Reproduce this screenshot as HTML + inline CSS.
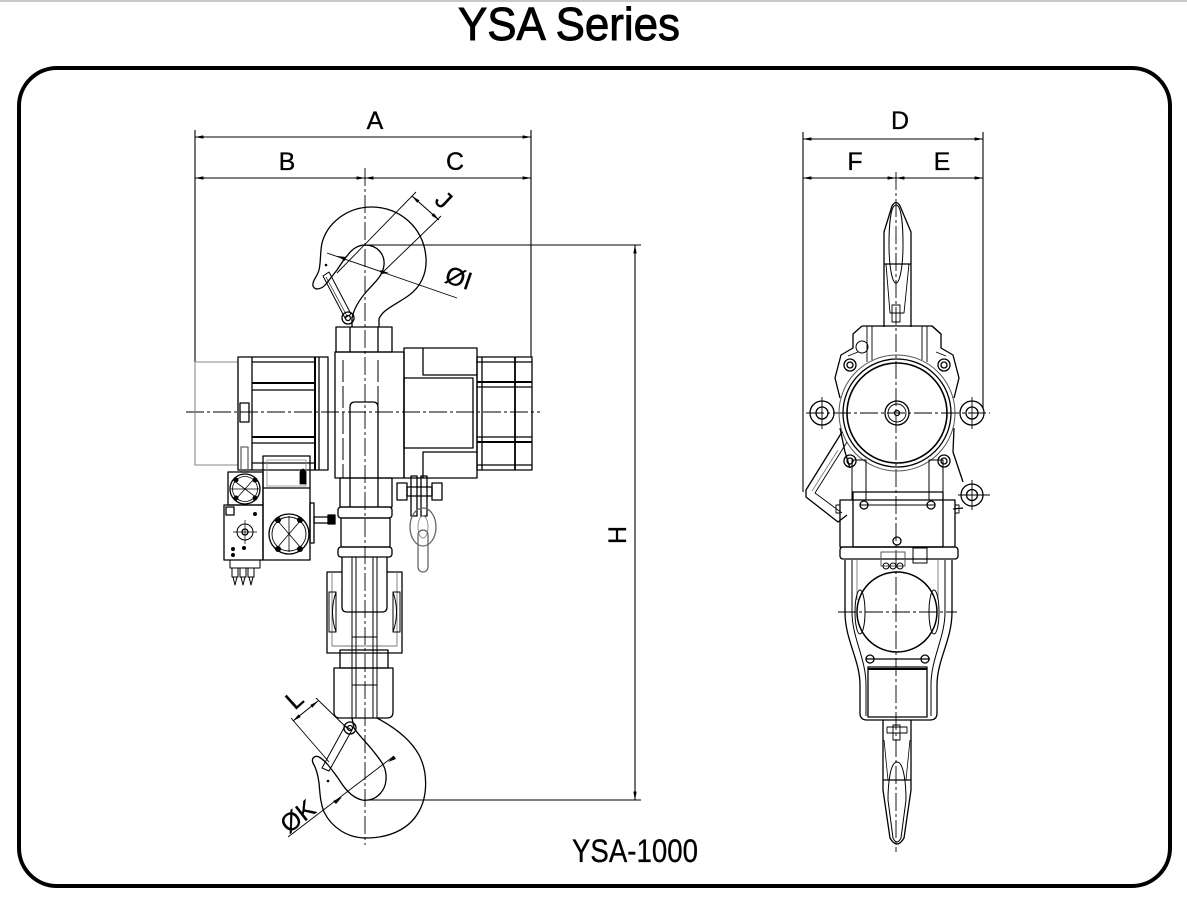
<!DOCTYPE html>
<html><head><meta charset="utf-8"><style>
html,body{margin:0;padding:0;background:#fff;}
svg{display:block}
text{font-family:"Liberation Sans",sans-serif;fill:#000}
</style></head><body>
<svg width="1187" height="898" viewBox="0 0 1187 898" xmlns="http://www.w3.org/2000/svg">
<defs>
<marker id="a" viewBox="0 0 10 4" refX="10" refY="2" markerWidth="9" markerHeight="3.4" markerUnits="userSpaceOnUse" orient="auto-start-reverse"><path d="M0,0L10,2L0,4z" fill="#000"/></marker>
</defs>
<rect x="0" y="0" width="1187" height="2" fill="#c8c8c8"/>
<text x="569" y="40" font-size="46" text-anchor="middle" textLength="222" lengthAdjust="spacingAndGlyphs" stroke="#000" stroke-width="0.9">YSA Series</text>
<rect x="19" y="68" width="1151" height="818" rx="38" fill="none" stroke="#000" stroke-width="4"/>
<text x="635" y="862" font-size="32" text-anchor="middle" textLength="126" lengthAdjust="spacingAndGlyphs" stroke="#000" stroke-width="0.3">YSA-1000</text>

<!-- dimension labels -->
<g font-size="25" text-anchor="middle" stroke="#000" stroke-width="0.3">
<text x="375" y="129">A</text>
<text x="287" y="170">B</text>
<text x="455" y="170">C</text>
<text x="900" y="129">D</text>
<text x="855" y="170">F</text>
<text x="942" y="170">E</text>
<text transform="translate(626,535) rotate(-90)">H</text>
<text transform="translate(438,206) rotate(43)">J</text>
<text transform="translate(456,286) rotate(19)">ØI</text>
<text transform="translate(300,706) rotate(-42)">L</text>
<text transform="translate(303,823) rotate(-38)">ØK</text>
</g>

<!-- dimension lines -->
<g stroke="#000" stroke-width="1.1" fill="none">
<line x1="195" y1="130" x2="195" y2="362"/>
<line x1="531" y1="130" x2="531" y2="357"/>
<line x1="195" y1="137" x2="531" y2="137" marker-start="url(#a)" marker-end="url(#a)"/>
<line x1="195" y1="178" x2="365" y2="178" marker-start="url(#a)" marker-end="url(#a)"/>
<line x1="365" y1="178" x2="531" y2="178" marker-start="url(#a)" marker-end="url(#a)"/>
<line x1="365" y1="245" x2="641" y2="245"/>
<line x1="365" y1="800" x2="641" y2="800"/>
<line x1="635" y1="245" x2="635" y2="800" marker-start="url(#a)" marker-end="url(#a)"/>
<line x1="803" y1="132" x2="803" y2="492"/>
<line x1="983" y1="132" x2="983" y2="408"/>
<line x1="803" y1="139" x2="983" y2="139" marker-start="url(#a)" marker-end="url(#a)"/>
<line x1="803" y1="178" x2="896" y2="178" marker-start="url(#a)" marker-end="url(#a)"/>
<line x1="896" y1="178" x2="983" y2="178" marker-start="url(#a)" marker-end="url(#a)"/>
<!-- J -->
<line x1="337" y1="273" x2="416" y2="192" stroke-width="0.9"/>
<line x1="382" y1="273" x2="441" y2="216" stroke-width="0.9"/>
<line x1="412" y1="196" x2="439" y2="220" marker-start="url(#a)" marker-end="url(#a)"/>
<!-- ØI -->
<line x1="327" y1="253" x2="457" y2="298" stroke-width="0.9"/>
<!-- L -->
<line x1="291" y1="718" x2="329" y2="762" stroke-width="0.9"/>
<line x1="316" y1="698" x2="350" y2="731" stroke-width="0.9"/>
<line x1="293" y1="721" x2="318" y2="701" marker-start="url(#a)" marker-end="url(#a)"/>
<!-- ØK -->
<line x1="288" y1="837" x2="394" y2="756" stroke-width="0.9"/>
</g>
<g fill="#000">
<polygon points="337,256 346,257 345,261"/>
<polygon points="389,273 380,270 381,274"/>
<polygon points="342,797 336,804 333,801"/>
<polygon points="388,762 394,756 396,759"/>
</g>

<!-- center lines -->
<g stroke="#000" stroke-width="0.9" stroke-dasharray="18 3 3 3" fill="none">
<line x1="365" y1="168" x2="365" y2="845"/>
<line x1="186" y1="412" x2="540" y2="412"/>
<line x1="896" y1="172" x2="896" y2="852"/>
<line x1="806" y1="413" x2="990" y2="413"/>
<line x1="838" y1="612" x2="957" y2="612"/>
</g>

<!-- ===== LEFT VIEW ===== -->
<g stroke="#000" stroke-width="1.3" fill="none" stroke-linejoin="round">
<!-- upper hook -->
<path d="M379,327 L379,319 C382,310 395,305 408,296 C421,287 427,273 426,258 C424,228 400,207 372,207 C346,207 327,224 322,243 C320,252 321,262 319,270 C317,277 312,281 313,286 C315,291 322,289 326,284 L337,270 C341,264 344,259 347,256 C352,249 358,245 365,245 C377,245 385,254 384,265 C383,276 374,283 367,291 C360,299 354,308 352,318 L352,327"/>
<polygon points="323,276 329,272 351,314 345,318" stroke-width="1"/>
<line x1="326" y1="277" x2="347" y2="316" stroke-width="0.6"/>
<circle cx="348" cy="318" r="6"/>
<circle cx="348" cy="318" r="2.5"/>
<line x1="350" y1="327" x2="350" y2="352"/>
<line x1="378" y1="327" x2="378" y2="352"/>
<rect x="336" y="327" width="56" height="25"/>
<!-- column -->
<rect x="335" y="352" width="69" height="126"/>
<path d="M343,360 V478 M378,360 V478" stroke-dasharray="22 4" stroke-width="1"/>
<path d="M350,507 V407 Q350,402 355,402 H373 Q378,402 378,407 V507"/>
<rect x="340" y="478" width="52" height="29"/>
<!-- left cover -->
<rect x="195" y="362" width="43" height="103" stroke="#888" stroke-width="1.1"/>
<!-- bracket + motor -->
<rect x="238" y="357" width="90" height="113"/>
<line x1="252" y1="357" x2="252" y2="470"/>
<line x1="315" y1="357" x2="315" y2="470" stroke-width="2"/>
<line x1="319" y1="357" x2="319" y2="470"/>
<rect x="240" y="403" width="9" height="19"/>
<line x1="252" y1="362" x2="315" y2="362"/>
<line x1="252" y1="383" x2="315" y2="383" stroke-width="2"/>
<line x1="252" y1="390" x2="315" y2="390"/>
<line x1="252" y1="437" x2="315" y2="437" stroke-width="2"/>
<line x1="252" y1="443" x2="315" y2="443"/>
<line x1="252" y1="463" x2="315" y2="463"/>
<!-- gearbox -->
<rect x="404" y="348" width="73" height="130"/>
<rect x="404" y="378" width="69" height="70"/>
<path d="M423,348 V375 H477 M423,478 V452 H477"/>
<!-- right motor -->
<rect x="477" y="357" width="55" height="113"/>
<line x1="482" y1="357" x2="482" y2="470"/>
<line x1="515" y1="357" x2="515" y2="470" stroke-width="1.8"/>
<line x1="477" y1="362" x2="532" y2="362"/>
<line x1="477" y1="382" x2="532" y2="382" stroke-width="2"/>
<line x1="477" y1="387" x2="532" y2="387"/>
<line x1="477" y1="437" x2="532" y2="437"/>
<line x1="477" y1="442" x2="532" y2="442" stroke-width="2"/>
<line x1="477" y1="465" x2="532" y2="465"/>
<!-- bolt + chain -->
<rect x="397" y="483" width="10" height="17"/>
<rect x="432" y="483" width="10" height="17"/>
<rect x="407" y="487" width="25" height="9"/>
<rect x="411" y="476" width="6" height="40"/>
<rect x="421" y="476" width="6" height="40"/>
<ellipse cx="423" cy="527" rx="13" ry="19" stroke="#666"/>
<ellipse cx="423" cy="527" rx="5" ry="11" stroke="#888" stroke-width="0.9"/>
<rect x="418" y="530" width="10" height="42" rx="5" stroke="#666"/>
<!-- left boxes -->
<rect x="241" y="447" width="7" height="25" stroke="#666"/>
<rect x="228" y="472" width="35" height="33"/>
<circle cx="245" cy="489" r="15"/>
<circle cx="245" cy="489" r="12.5" stroke-width="0.8"/>
<path d="M233,480 L257,498 M236,499 L254,479 M231,489 H259" stroke-width="0.8"/>
<g fill="#000" stroke="none">
<circle cx="236" cy="480" r="2.5"/><circle cx="255" cy="480" r="2.5"/><circle cx="236" cy="498" r="2.5"/><circle cx="255" cy="498" r="2.5"/>
</g>
<rect x="224" y="505" width="39" height="55"/>
<rect x="226" y="507" width="8" height="8"/>
<circle cx="245" cy="532" r="8" stroke-width="1"/>
<circle cx="245" cy="532" r="3"/>
<path d="M233,532 H257 M245,520 V544" stroke-width="0.7"/>
<g fill="#000" stroke="none">
<circle cx="233" cy="549" r="2"/><circle cx="233" cy="555" r="2"/><circle cx="244" cy="548" r="2"/><circle cx="255" cy="514" r="2"/>
</g>
<rect x="263" y="456" width="47" height="104"/>
<line x1="263" y1="488" x2="310" y2="488"/>
<rect x="267" y="460" width="39" height="26" stroke="#888" stroke-width="0.8"/>
<path d="M300,484 V472 Q303,466 306,472 V484 Z" fill="#000" stroke-width="0.8"/>
<circle cx="289" cy="534" r="20"/>
<circle cx="289" cy="534" r="17" stroke-width="0.9"/>
<path d="M277,520 L301,548 M277,548 L301,520 M289,516 V552" stroke-width="0.8"/>
<g fill="#000" stroke="none">
<circle cx="278" cy="520" r="3"/><circle cx="300" cy="520" r="3"/><circle cx="278" cy="549" r="3"/><circle cx="300" cy="549" r="3"/>
</g>
<rect x="310" y="503" width="4" height="40"/>
<rect x="314" y="517" width="15" height="6"/>
<rect x="328" y="515" width="7" height="9" fill="#000"/>
<path d="M230,560 V568 H260 V560 M232,568 V577 H238 V568 M240,568 V577 H246 V568 M248,568 V577 H254 V568" stroke-width="1"/>
<path d="M233,577 L235,585 L237,577 M241,577 L243,585 L245,577 M249,577 L251,585 L253,577" stroke-width="1"/>
<!-- collar -->
<rect x="338" y="507" width="54" height="11" rx="3"/>
<rect x="341" y="518" width="49" height="29"/>
<rect x="338" y="547" width="54" height="10" rx="3"/>
<!-- lower section -->
<path d="M342,557 V607 Q342,612 347,612 H382 Q387,612 387,607 V557"/>
<path d="M342,572 H327 V653 H402 V572 H387"/>
<path d="M332,572 V646 H397 V572" stroke="#777" stroke-width="0.9"/>
<path d="M336,592 Q329,612 336,632 M329,592 H336 V632 H329 Z" stroke-width="1"/>
<path d="M393,592 Q400,612 393,632 M400,592 H393 V632 H400 Z" stroke-width="1"/>
<path d="M352,557 V718 M356,557 V718 M373,557 V718 M377,557 V718" stroke-width="1"/>
<path d="M352,612 H377 M352,637 H377 M352,685 H377" stroke-width="0.9"/>
<rect x="340" y="650" width="48" height="18"/>
<path d="M334,668 H393 V712 Q393,718 387,718 H340 Q334,718 334,712 Z"/>
<!-- lower hook -->
<path d="M377,718 C392,726 410,738 419,755 C428,772 428,797 418,813 C408,830 388,838 366,838 C348,838 332,828 324,812 C320,802 320,792 319,783 C318,775 316,768 313,763 C311,758 315,755 319,757 C326,761 332,770 338,778 C343,786 350,797 362,800 C375,802 385,792 386,780 C387,768 382,762 374,752 C368,744 360,737 354,728 L352,718"/>
<polygon points="345,726 352,730 329,771 322,768" stroke-width="1"/>
<circle cx="350" cy="728" r="6"/>
<circle cx="350" cy="728" r="2.5"/>
</g>
<circle cx="326" cy="265" r="1.3" fill="#000"/>
<circle cx="328" cy="781" r="1.3" fill="#000"/>

<!-- ===== RIGHT VIEW ===== -->
<g stroke="#000" stroke-width="1.3" fill="none" stroke-linejoin="round">
<!-- top hook -->
<path d="M884,327 V232 L892,206 Q896,199 900,206 L911,232 V327"/>
<line x1="884" y1="264" x2="911" y2="264"/>
<path d="M896,205 C890,205 889,230 889,245 C889,265 892,283 896,283 C900,283 903,265 903,245 C903,230 902,205 896,205 Z" stroke-width="1"/>
<path d="M886,264 L890,313 H904 L909,264" stroke-width="0.9"/>
<rect x="892" y="305" width="8" height="17" stroke-width="0.9"/>
<!-- housing -->
<path d="M862,326 H932 L941,334 V348 L953,355 L959,378 L954,398 M954,428 L953,452 L958,467 L963,482 M963,508 L953,509"/>
<path d="M932,326 L941,334 M862,326 L853,334 V348 L841,355 L835,378 L840,398 M840,428 L845,452 L850,468"/>
<path d="M867,326 V362 M872,326 V360 M922,326 V360 M927,326 V362" stroke-width="0.9"/>
<path d="M848,356 L858,352 M946,356 L936,352" stroke-width="0.9"/>
<circle cx="897" cy="413" r="58" stroke="#555" stroke-width="1"/>
<circle cx="897" cy="413" r="54"/>
<circle cx="897" cy="413" r="50" stroke-width="1.6"/>
<circle cx="897" cy="413" r="12"/>
<circle cx="897" cy="413" r="9" stroke-width="0.9"/>
<circle cx="897" cy="413" r="2.5"/>
<circle cx="850" cy="365" r="6"/><circle cx="850" cy="365" r="3"/>
<circle cx="944" cy="365" r="6"/><circle cx="944" cy="365" r="3"/>
<circle cx="850" cy="461" r="6"/><circle cx="850" cy="461" r="3"/>
<circle cx="944" cy="461" r="6"/><circle cx="944" cy="461" r="3"/>
<circle cx="862" cy="347" r="6" stroke-width="1"/>
<!-- lugs -->
<circle cx="822" cy="413" r="12"/><circle cx="822" cy="413" r="6"/>
<circle cx="972" cy="413" r="12"/><circle cx="972" cy="413" r="6"/>
<circle cx="972" cy="495" r="11"/><circle cx="972" cy="495" r="5.5"/>
<path d="M822,397 V429 M972,397 V429 M972,480 V510 M958,495 H990" stroke-width="0.9"/>
<!-- left arm -->
<path d="M842,432 L806,490 L806,497 L838,522 L847,515"/>
<path d="M847,442 L815,493 L842,513" stroke-width="0.9"/>
<path d="M838,450 L812,491" stroke="#777" stroke-width="0.8"/>
<!-- posts -->
<rect x="852" y="460" width="14" height="40" stroke-width="1"/>
<rect x="929" y="460" width="14" height="40" stroke-width="1"/>
<!-- lower box -->
<rect x="840" y="500" width="115" height="47"/>
<rect x="853" y="492" width="90" height="55"/>
<line x1="860" y1="505" x2="935" y2="505" stroke-width="0.9"/>
<circle cx="864" cy="505" r="4"/><circle cx="931" cy="505" r="4"/>
<rect x="836" y="505" width="4" height="8" stroke-width="0.9"/>
<rect x="955" y="505" width="4" height="8" stroke-width="0.9"/>
<circle cx="897" cy="541" r="4"/>
<rect x="840" y="547" width="118" height="12" rx="3"/>
<rect x="881" y="552" width="24" height="14" stroke="#555" stroke-width="1"/>
<circle cx="886" cy="566" r="3" stroke-width="1"/><circle cx="893" cy="566" r="3" stroke-width="1"/><circle cx="900" cy="566" r="3" stroke-width="1"/>
<rect x="913" y="548" width="14" height="15" stroke-width="1"/>
<!-- lower frame -->
<path d="M845,560 V612 C845,640 860,660 860,685 V713 Q860,720 867,720 H930 Q937,720 937,713 V685 C937,660 952,640 952,612 V560"/>
<path d="M852,560 V612 C852,638 866,658 866,685 V716 M945,560 V612 C945,638 931,658 931,685 V716" stroke-width="1"/>
<path d="M857,560 V600 M938,560 V600" stroke="#777" stroke-width="0.9"/>
<circle cx="897" cy="612" r="40" stroke-width="1.5"/>
<ellipse cx="860" cy="612" rx="5" ry="22" stroke-width="1"/>
<ellipse cx="934" cy="612" rx="5" ry="22" stroke-width="1"/>
<line x1="866" y1="659" x2="930" y2="659"/>
<circle cx="870" cy="659" r="4"/><circle cx="925" cy="659" r="4"/>
<rect x="868" y="667" width="59" height="50"/>
<line x1="868" y1="669" x2="927" y2="669" stroke-width="2"/>
<!-- bottom hook -->
<path d="M883,720 V790 L890,838 Q897,850 904,838 L911,790 V720"/>
<line x1="883" y1="780" x2="911" y2="780"/>
<path d="M897,762 C890,762 888,785 888,800 L893,838 Q897,846 901,838 L906,800 C906,785 904,762 897,762 Z" stroke-width="1"/>
<rect x="887" y="727" width="20" height="6" stroke-width="0.9"/>
<rect x="893" y="725" width="7" height="15" stroke-width="0.9"/>
<path d="M884,740 L888,780 M910,740 L906,780" stroke-width="0.8"/>
</g>
</svg>
</body></html>
